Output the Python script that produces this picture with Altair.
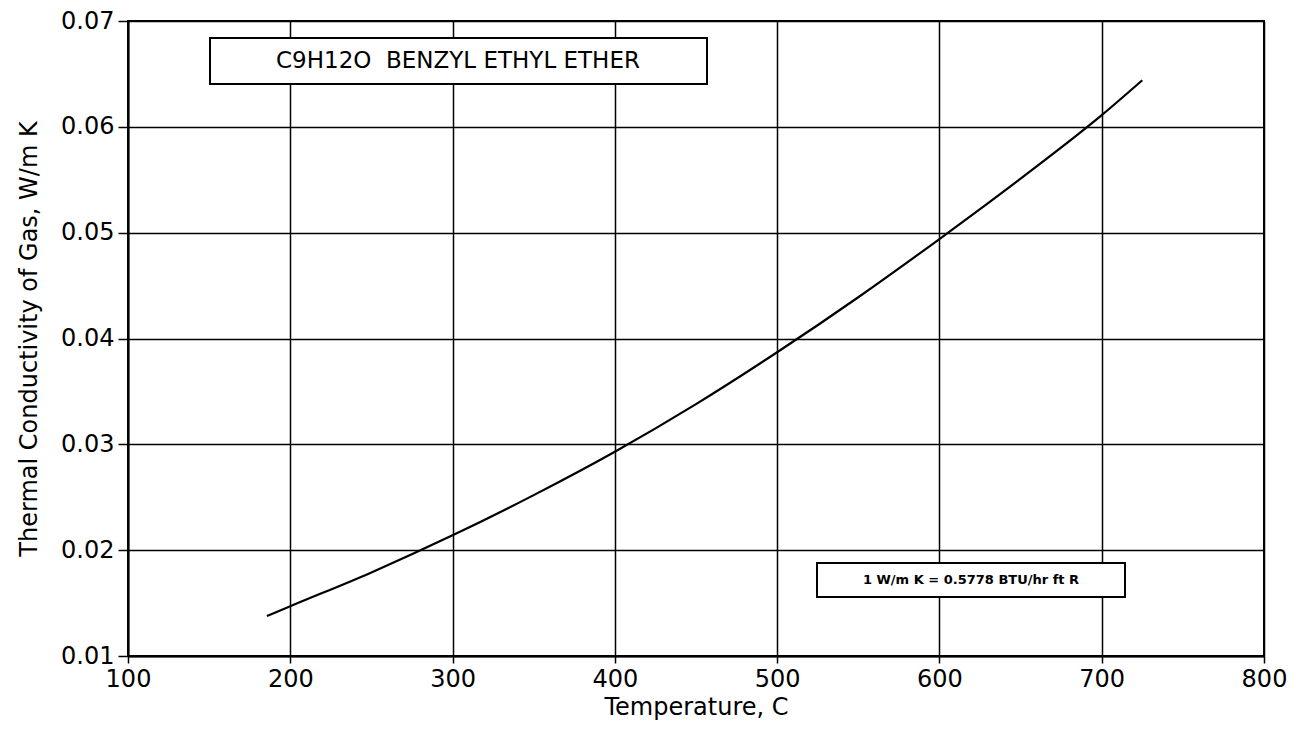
import altair as alt
import pandas as pd

# Data
temperature = [185.6, 200, 250, 300, 350, 400, 450, 500, 550, 600, 650, 700, 725]
conductivity = [0.01377, 0.0147, 0.0179, 0.0214, 0.0252, 0.0293, 0.0338, 0.0387, 0.0439, 0.0494,
                0.0551, 0.0611, 0.0644]
x_ticks = [100, 200, 300, 400, 500, 600, 700, 800]
y_ticks = [0.01, 0.02, 0.03, 0.04, 0.05, 0.06, 0.07]
title_box = "C9H12O\u00a0 BENZYL ETHYL ETHER"
unit_box = "1 W/m K = 0.5778 BTU/hr ft R"

FONT = "DejaVu Sans"
W, H = 1136, 635

df = pd.DataFrame({"T": temperature, "k": conductivity})

x_enc = alt.X("T:Q", scale=alt.Scale(domain=[100, 800], nice=False),
              axis=alt.Axis(values=x_ticks, title="Temperature, C", format="d",
                            tickSize=7, labelPadding=4, labelFlush=False,
                            titleY=58, titleBaseline="alphabetic"))
y_enc = alt.Y("k:Q", scale=alt.Scale(domain=[0.01, 0.07], nice=False),
              axis=alt.Axis(values=y_ticks, title="Thermal Conductivity of Gas, W/m K",
                            format=".2f", tickSize=10, labelPadding=4, labelFlush=False,
                            titleX=-92, titleBaseline="alphabetic"))

line = alt.Chart(df).mark_line(color="black", strokeWidth=2.2, interpolate="monotone").encode(
    x=x_enc, y=y_enc)

box1 = alt.Chart(pd.DataFrame({"a": [0]})).mark_rect(
    fill="white", stroke="black", strokeWidth=2
).encode(x=alt.value(82), x2=alt.value(579), y=alt.value(17), y2=alt.value(63))
text1 = alt.Chart(pd.DataFrame({"t": [title_box]})).mark_text(
    font=FONT, fontSize=23, color="black", align="center", baseline="middle"
).encode(x=alt.value(330), y=alt.value(40), text="t:N")

box2 = alt.Chart(pd.DataFrame({"a": [0]})).mark_rect(
    fill="white", stroke="black", strokeWidth=2
).encode(x=alt.value(689), x2=alt.value(997), y=alt.value(542), y2=alt.value(576))
text2 = alt.Chart(pd.DataFrame({"t": [unit_box]})).mark_text(
    font=FONT, fontSize=13, fontWeight="bold", color="black", align="center", baseline="middle"
).encode(x=alt.value(843), y=alt.value(559), text="t:N")

chart = alt.layer(line, box1, text1, box2, text2).properties(
    width=W, height=H,
    autosize=alt.AutoSizeParams(type="none"),
    padding={"left": 120, "top": 13, "right": 30, "bottom": 70},
    background="white",
).configure_view(
    stroke="black", strokeWidth=2
).configure_axis(
    labelFont=FONT, labelFontSize=24, labelColor="black",
    titleFont=FONT, titleFontSize=24, titleColor="black", titleFontWeight="normal",
    domainColor="black", domainWidth=2, tickColor="black", tickWidth=1.5,
    gridColor="black", gridWidth=1.5, gridOpacity=1, grid=True,
)

chart.save("out.html", embed_options={"renderer": "svg", "actions": False})
